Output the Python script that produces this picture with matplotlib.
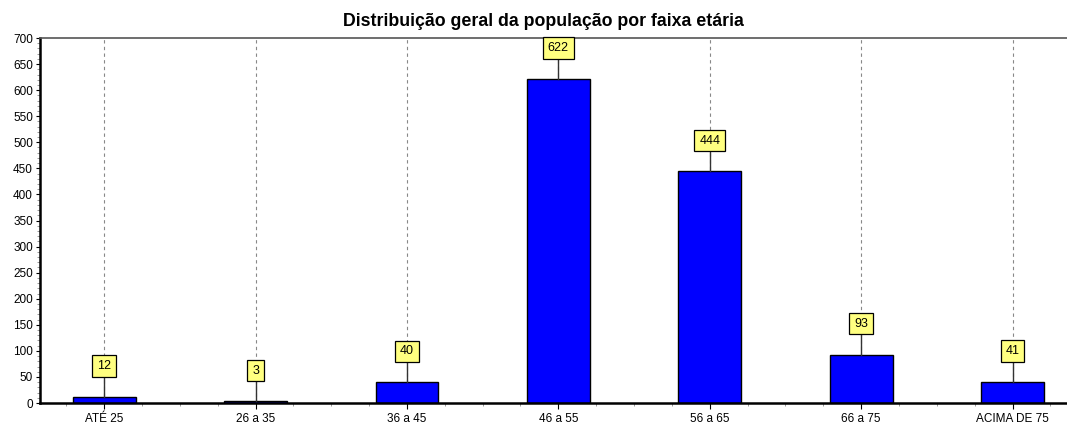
import numpy as np
import matplotlib.pyplot as plt
from matplotlib.ticker import MultipleLocator

categories = ["ATÉ 25", "26 a 35", "36 a 45", "46 a 55", "56 a 65", "66 a 75", "ACIMA DE 75"]
values = [12, 3, 40, 622, 444, 93, 41]
title = "Distribuição geral da população por faixa etária"

plt.rcParams['font.family'] = ['Liberation Sans', 'DejaVu Sans']

fig = plt.figure(figsize=(10.67, 4.23), dpi=100)
ax = fig.add_axes([40 / 1067, 20 / 423, 1027 / 1067, 365 / 423])

x = np.arange(len(categories))
ax.set_xlim(-0.424, 6.36)
ax.set_ylim(0, 700)

# dashed vertical grid at each category, behind everything
for xi in x:
    ax.axvline(xi, color='#888888', lw=0.8, ls=(0, (3, 3)), zorder=0)

ax.bar(x, values, width=0.415, color='#0000ff', edgecolor='black', lw=1.0, zorder=2)

# value labels with connector line
offset = 59
for xi, v in zip(x, values):
    ax.plot([xi, xi], [v, v + offset], color='#333333', lw=1.0, zorder=3)
    ax.text(xi, v + offset, str(v), ha='center', va='center', fontsize=9, zorder=4,
            bbox=dict(boxstyle='square,pad=0.38', fc='#ffff80', ec='black', lw=0.9))

ax.set_xticks(x)
ax.set_xticklabels(categories, fontsize=8.5)
ax.xaxis.set_minor_locator(MultipleLocator(0.25))
ax.yaxis.set_major_locator(MultipleLocator(50))
ax.yaxis.set_minor_locator(MultipleLocator(10))
ax.tick_params(axis='y', labelsize=8.5, length=3, width=0.8, pad=2)
ax.tick_params(axis='x', length=4, width=0.8, pad=3)
ax.tick_params(which='minor', length=2, width=0.6, color='#888888')

ax.spines['left'].set_linewidth(1.8)
ax.spines['bottom'].set_linewidth(1.8)
ax.spines['top'].set_linewidth(1.2)
ax.spines['top'].set_color('#555555')
ax.spines['right'].set_visible(False)

fig.text(543 / 1067, 1 - 21 / 423, title, ha='center', va='center', fontsize=12.8, fontweight='bold')

fig.savefig('out.png', dpi=100)
